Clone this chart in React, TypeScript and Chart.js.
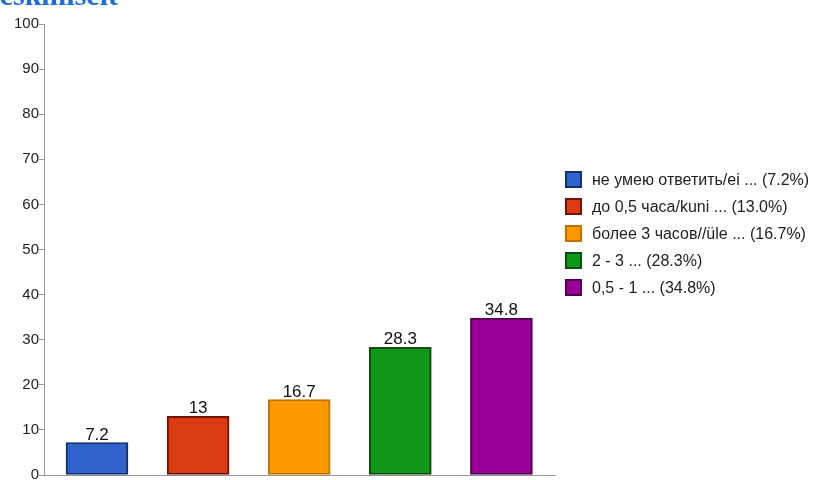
import React, { useEffect, useRef } from "react";
import { Chart, registerables } from "chart.js";

Chart.register(...registerables);

const categories = [
  "не умею ответить/ei ...",
  "до 0,5 часа/kuni ...",
  "более 3 часов//üle ...",
  "2 - 3 ...",
  "0,5 - 1 ...",
];
const values = [7.2, 13, 16.7, 28.3, 34.8];
const valueLabels = ["7.2", "13", "16.7", "28.3", "34.8"];
const legendPercents = ["7.2%", "13.0%", "16.7%", "28.3%", "34.8%"];
const colors = ["#3064cc", "#dc3a12", "#ff9900", "#109618", "#990099"];
const borderColors = ["#15306e", "#701206", "#c27000", "#0a4f0d", "#4f004f"];
const yTicks = [0, 10, 20, 30, 40, 50, 60, 70, 80, 90, 100];
const titleText = "keskmiselt";

const valueLabelPlugin = {
  id: "valueLabels",
  afterDatasetsDraw(chart: any) {
    const ctx = chart.ctx;
    const meta = chart.getDatasetMeta(0);
    ctx.save();
    ctx.font = "17px 'Liberation Sans', Arial, sans-serif";
    ctx.fillStyle = "#111";
    ctx.textAlign = "center";
    ctx.textBaseline = "alphabetic";
    meta.data.forEach((bar: any, i: number) => {
      ctx.fillText(valueLabels[i], bar.x, bar.y - 3);
    });
    ctx.restore();
  },
};

export default function App() {
  const ref = useRef<HTMLCanvasElement | null>(null);
  useEffect(() => {
    if (!ref.current) return;
    const chart = new Chart(ref.current, {
      type: "bar",
      data: {
        datasets: [
          {
            label: "values",
            data: values.map((v, i) => ({ x: i, y: v })),
            backgroundColor: colors,
            borderColor: borderColors,
            borderWidth: 2,
            barThickness: 62,
            borderSkipped: false,
          },
        ],
      },
      options: {
        responsive: false,
        animation: false,
        layout: { padding: { top: 24, right: 274, bottom: 5, left: 0 } },
        plugins: { legend: { display: false }, tooltip: { enabled: false } },
        scales: {
          x: {
            type: "linear",
            min: -0.524,
            max: 4.53,
            offset: false,
            grid: { display: false, drawTicks: false },
            border: { display: true, color: "#999", width: 1 },
            ticks: { display: false },
            afterFit: (s: any) => {
              s.height = 0;
              s.paddingLeft = 0;
              s.paddingRight = 0;
            },
          },
          y: {
            min: 0,
            max: 100,
            afterFit: (s: any) => {
              s.width = 44;
              s.paddingTop = 0;
              s.paddingBottom = 0;
            },
            afterBuildTicks: (s: any) => {
              s.ticks = yTicks.map((v) => ({ value: v }));
            },
            grid: {
              display: true,
              drawOnChartArea: false,
              drawTicks: true,
              tickLength: 5,
              color: "#999",
            },
            border: { display: true, color: "#999", width: 1 },
            ticks: {
              padding: 0,
              color: "#222",
              font: { size: 15, family: "'Liberation Sans', Arial, sans-serif" },
            },
          },
        },
      },
      plugins: [valueLabelPlugin],
    });
    return () => chart.destroy();
  }, []);

  return (
    <div
      style={{
        position: "fixed",
        left: 0,
        top: 0,
        width: 829,
        height: 480,
        overflow: "hidden",
        background: "#fff",
      }}
    >
      <canvas ref={ref} width={829} height={480} style={{ position: "absolute", left: 0, top: 0 }} />
      <div
        style={{
          position: "absolute",
          left: -17,
          top: -20,
          fontFamily: "'Liberation Serif', 'Times New Roman', serif",
          fontWeight: "bold",
          fontSize: 30,
          lineHeight: "30px",
          color: "#1a6fd6",
          whiteSpace: "nowrap",
        }}
      >
        {titleText}
      </div>
      {categories.map((c, i) => (
        <div
          key={c}
          style={{
            position: "absolute",
            left: 565,
            top: 171 + i * 27,
            height: 17,
            display: "flex",
            alignItems: "center",
            fontFamily: "'Liberation Sans', Arial, sans-serif",
            fontSize: 16,
            color: "#222",
            whiteSpace: "nowrap",
          }}
        >
          <span
            style={{
              display: "inline-block",
              width: 13,
              height: 13,
              background: colors[i],
              border: `2px solid ${borderColors[i]}`,
              marginRight: 10,
            }}
          />
          <span>{`${c} (${legendPercents[i]})`}</span>
        </div>
      ))}
    </div>
  );
}
